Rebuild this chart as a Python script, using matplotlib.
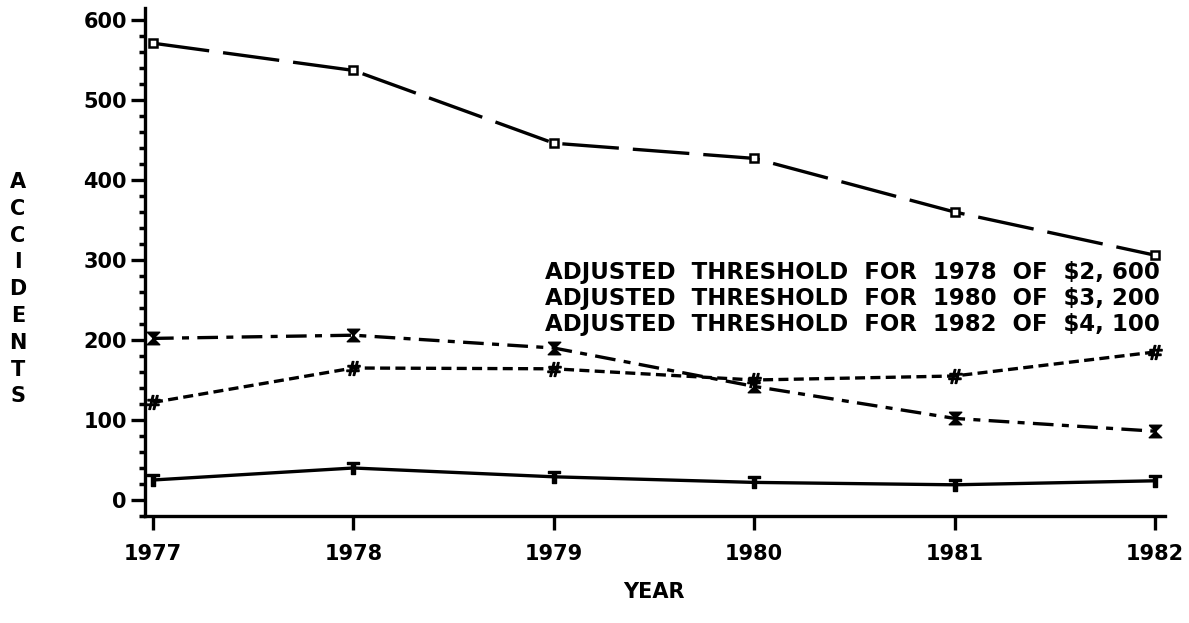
import matplotlib
matplotlib.use("Agg")
import matplotlib.pyplot as plt
from matplotlib.ticker import MultipleLocator

years = [1977, 1978, 1979, 1980, 1981, 1982]
series_a = [571, 537, 446, 427, 360, 306]
series_b = [202, 206, 190, 142, 102, 86]
series_c = [122, 165, 164, 150, 155, 185]
series_d = [25, 40, 29, 22, 19, 24]

y_ticks = [0, 100, 200, 300, 400, 500, 600]
notes = [
    "ADJUSTED  THRESHOLD  FOR  1978  OF  $2, 600",
    "ADJUSTED  THRESHOLD  FOR  1980  OF  $3, 200",
    "ADJUSTED  THRESHOLD  FOR  1982  OF  $4, 100",
]
y_title = "ACCIDENTS"
x_title = "YEAR"

W, H = 1189, 623
FONT = dict(family="DejaVu Sans", weight="bold")

fig = plt.figure(figsize=(W / 100, H / 100), dpi=100)
ax = fig.add_axes([145 / W, 1 - 516 / H, (1165 - 145) / W, (516 - 8) / H])

lw = 2.4
hourglass = [(-1, 1), (1, 1), (-1, -1), (1, -1), (-1, 1)]

ax.plot(years, series_a, color="black", lw=lw, dashes=(17, 4.2),
        marker="s", ms=6, mfc="white", mec="black", mew=1.8)
ax.plot(years, series_b, color="black", lw=lw, dashes=(6.2, 2.5, 2.1, 2.5),
        marker=hourglass, ms=9, mfc="black", mec="black")
ax.plot(years, series_c, color="black", lw=lw, dashes=(3.0, 1.6),
        marker=r"$\#$", ms=10, mec="black", mfc="black")
ax.plot(years, series_d, color="black", lw=lw,
        marker=r"$\mathbf{T}$", ms=9, mec="black", mfc="black")

ax.set_xlim(1976.96, 1982.05)
ax.set_ylim(-20, 615)

for side in ("top", "right"):
    ax.spines[side].set_visible(False)
for side in ("left", "bottom"):
    ax.spines[side].set_linewidth(2.4)

ax.set_xticks(years)
ax.set_xticklabels([str(y) for y in years], fontsize=15, **FONT)
ax.set_yticks(y_ticks)
ax.set_yticklabels([str(v) for v in y_ticks], fontsize=15, **FONT)
ax.yaxis.set_minor_locator(MultipleLocator(20))
ax.tick_params(axis="x", which="major", length=10, width=2.4, pad=10)
ax.tick_params(axis="y", which="major", length=10, width=2.4, pad=3)
ax.tick_params(axis="y", which="minor", length=4, width=2.5)

for i, line in enumerate(notes):
    fig.text(545 / W, 1 - (273 + i * 26) / H, line, ha="left", va="center",
             fontsize=16.5, **FONT)

for i, ch in enumerate(y_title):
    fig.text(18 / W, 1 - (182 + i * 26.8) / H, ch, ha="center", va="center",
             fontsize=15, **FONT)

fig.text(654 / W, 1 - 592 / H, x_title, ha="center", va="center",
         fontsize=15, **FONT)

fig.savefig("out.png", dpi=100)
